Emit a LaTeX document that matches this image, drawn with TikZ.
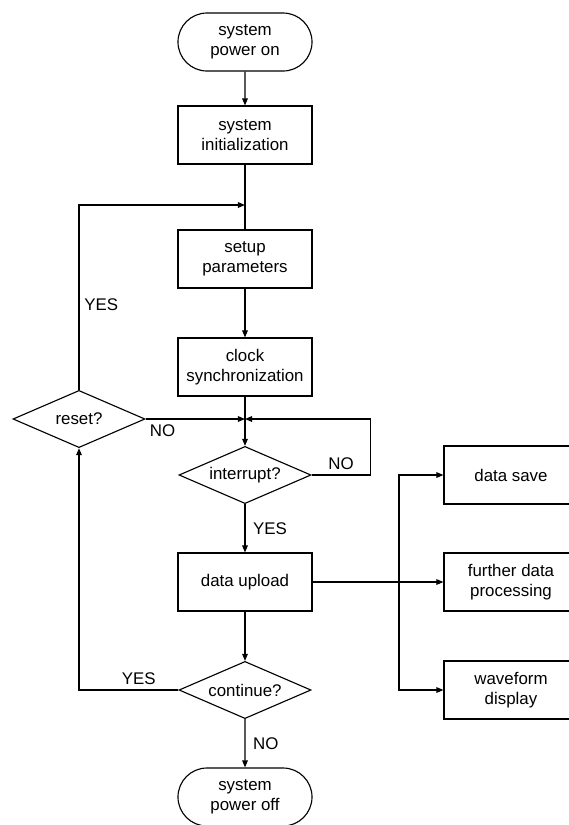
\documentclass[tikz,border=0pt]{standalone}
\usepackage{fontspec}
\setmainfont{Liberation Sans}
\usetikzlibrary{shapes.geometric,shapes.misc,arrows.meta}

\begin{document}
\begin{tikzpicture}[x=0.025cm,y=-0.025cm,>={Triangle[length=5pt,width=4pt]},
font=\fontsize{12}{14.2}\selectfont,line width=0.8pt,
stepbox/.style={draw,rectangle,minimum width=3.35cm,minimum height=1.45cm,inner sep=0pt,align=center},
term/.style={draw,rounded rectangle,minimum width=3.35cm,minimum height=1.45cm,inner sep=0pt,align=center},
test/.style={draw,diamond,shape aspect=2.35,minimum width=3.3cm,minimum height=1.43cm,inner sep=0pt,align=center}]
\useasboundingbox(0,0)rectangle(568,825);
% main column
\node[term](start)at(245,42){system\\power on};
\node[stepbox](init)at(245,135){system\\initialization};
\node[stepbox](setup)at(245,259){setup\\parameters};
\node[stepbox](clock)at(245,367){clock\\synchronization};
\node[test](interrupt)at(245,475){interrupt?};
\node[stepbox](upload)at(245,582){data upload};
\node[test](cont)at(245,690){continue?};
\node[term](stop)at(245,797){system\\power off};
\node[test](reset)at(79,419){reset?};
% outputs
\node[stepbox](save)at(511,475){data save};
\node[stepbox](further)at(511,582){further data\\processing};
\node[stepbox](wave)at(511,690){waveform\\display};
\coordinate(back)at(245,205);
\coordinate(merge)at(245,419);
\coordinate(fork)at(399,582);
% connectors
\draw[->](start)--(init);
\draw(init)--(setup);
\draw[->](setup)--(clock);
\draw[->](clock)--(interrupt);
\draw[->](reset)--(merge)node[pos=0.17,below]{NO};
\draw[->](reset.north)|-(back)node[pos=0.23,right]{YES};
\draw[->](interrupt.east)--++(59,0)node[midway,above]{NO}|-(merge);
\draw[->](interrupt)--(upload)node[midway,right,xshift=2pt]{YES};
\draw[->](upload)--(cont);
\draw[->](cont)--(stop)node[midway,right,xshift=2pt]{NO};
\draw[->](cont.west)-|(reset.south)node[pos=0.2,above]{YES};
\draw[->](upload)--(further);
\draw[->](fork)|-(save);
\draw[->](fork)|-(wave);
\end{tikzpicture}
\end{document}
